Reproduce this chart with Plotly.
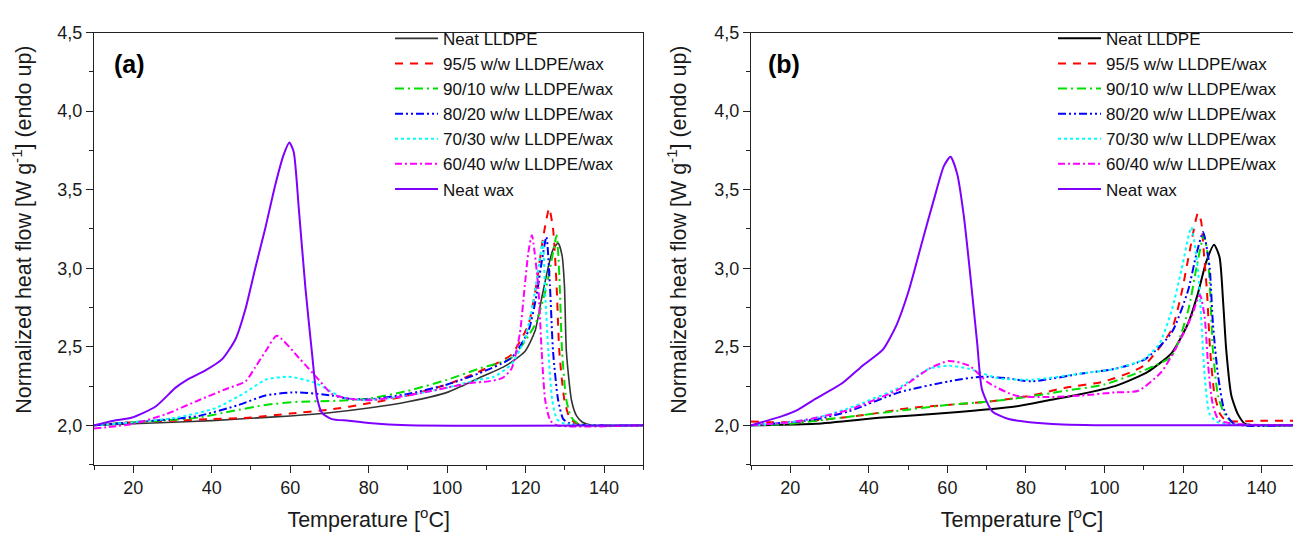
import plotly.graph_objects as go

# ---------------- Panel (a) data ----------------
a_lldpe_T = [10, 20, 30, 40, 50, 60, 70, 80, 90, 100, 108, 115, 119.8, 122.4, 124.1, 125.8, 127, 128.3, 129.3, 129.9, 130.4, 131.7, 133, 134.5, 137, 150]
a_lldpe_v = [2.0, 2.01, 2.02, 2.03, 2.045, 2.06, 2.08, 2.11, 2.15, 2.21, 2.30, 2.38, 2.47, 2.60, 2.81, 3.01, 3.12, 3.16, 3.08, 2.89, 2.47, 2.16, 2.06, 2.02, 2.0, 2.0]

a_95_T = [10, 20, 30, 40, 50, 60, 70, 80, 90, 100, 108, 113, 116.4, 120.7, 122.7, 124.5, 126, 127, 127.9, 128.6, 129.9, 131.2, 133, 150]
a_95_v = [2.0, 2.02, 2.03, 2.04, 2.05, 2.075, 2.10, 2.14, 2.19, 2.26, 2.34, 2.40, 2.45, 2.64, 2.89, 3.20, 3.38, 3.25, 2.89, 2.47, 2.16, 2.05, 2.01, 2.0]

a_90_T = [10, 20, 30, 36.7, 45, 53.7, 62, 70, 75, 80, 90, 100, 108, 116.4, 122.4, 125, 126.7, 127.9, 128.3, 128.7, 129.3, 130.4, 131.7, 133.5, 150]
a_90_v = [2.0, 2.02, 2.035, 2.05, 2.09, 2.13, 2.15, 2.155, 2.16, 2.17, 2.22, 2.29, 2.36, 2.43, 2.64, 2.85, 3.06, 3.21, 3.10, 2.89, 2.47, 2.16, 2.05, 2.01, 2.0]

a_80_T = [10, 20, 30, 36.7, 46.9, 53.7, 61.3, 70.6, 75, 80, 90, 100, 108, 116.4, 120.7, 122.8, 124.1, 125.3, 126.2, 127.0, 128.3, 129.6, 131.5, 150]
a_80_v = [2.0, 2.02, 2.04, 2.06, 2.13, 2.19, 2.21, 2.19, 2.17, 2.165, 2.20, 2.26, 2.33, 2.43, 2.60, 2.83, 3.04, 3.20, 2.89, 2.47, 2.16, 2.04, 2.01, 2.0]

a_70_T = [10, 20, 31.2, 41, 48.6, 53.7, 59.6, 66.4, 72.3, 75, 80, 90, 100, 108, 112, 116.4, 119.8, 121.9, 123.2, 124.4, 124.9, 125.8, 126.8, 128, 130, 150]
a_70_v = [2.0, 2.02, 2.05, 2.11, 2.21, 2.29, 2.31, 2.27, 2.19, 2.17, 2.16, 2.19, 2.24, 2.29, 2.31, 2.39, 2.55, 2.78, 2.99, 3.17, 2.89, 2.47, 2.16, 2.04, 2.01, 2.0]

a_60_T = [10, 20, 28.2, 36.7, 43.5, 48.6, 51.1, 53.7, 56.6, 62.2, 67.3, 70.6, 75, 80, 90, 100, 106, 110.5, 114, 116.4, 118.5, 119.8, 120.7, 121.6, 123.2, 124.1, 125.0, 126.3, 128, 150]
a_60_v = [1.98, 2.01, 2.07, 2.16, 2.23, 2.28, 2.37, 2.47, 2.57, 2.43, 2.29, 2.20, 2.17, 2.16, 2.19, 2.24, 2.27, 2.28, 2.30, 2.36, 2.58, 2.89, 3.10, 3.21, 2.89, 2.47, 2.16, 2.03, 2.0, 2.0]

a_wax_T = [10, 15, 19.7, 25.7, 30.8, 33.7, 38.4, 42.6, 46.1, 48.6, 51.1, 53.7, 56.2, 58.3, 59.8, 60.9, 62.2, 63.9, 65.6, 66.8, 68.1, 70.6, 74.9, 80, 90, 150]
a_wax_v = [2.0, 2.03, 2.05, 2.12, 2.24, 2.29, 2.35, 2.42, 2.55, 2.74, 3.00, 3.26, 3.53, 3.72, 3.80, 3.74, 3.38, 2.87, 2.45, 2.18, 2.08, 2.04, 2.03, 2.015, 2.0, 2.0]

# ---------------- Panel (b) data ----------------
b_lldpe_T = [10, 26.5, 43.5, 60.4, 77.3, 85.8, 94.2, 102.7, 108.6, 111, 117.1, 121.3, 123.8, 125.9, 127.9, 129.3, 130.2, 131, 132.3, 134, 135.8, 140, 148]
b_lldpe_v = [2.0, 2.01, 2.05, 2.08, 2.12, 2.16, 2.20, 2.25, 2.31, 2.34, 2.46, 2.65, 2.84, 3.04, 3.15, 3.07, 2.79, 2.48, 2.19, 2.07, 2.01, 2.0, 2.0]

b_95_T = [10, 15, 20, 30, 40, 50.2, 60, 70, 81.5, 90, 100, 110, 117.1, 119.6, 121.7, 123.8, 124.6, 125.3, 126.1, 126.9, 128, 129.5, 131, 140, 148]
b_95_v = [2.025, 2.02, 2.02, 2.04, 2.07, 2.11, 2.13, 2.15, 2.19, 2.24, 2.28, 2.38, 2.61, 2.84, 3.11, 3.35, 3.30, 3.10, 2.85, 2.48, 2.20, 2.07, 2.03, 2.03, 2.03]

b_90_T = [10, 20, 30, 40, 50, 60, 70, 80, 90, 100, 110, 117.1, 121.3, 123.4, 125.3, 126.2, 126.8, 127.6, 128.9, 130.6, 133, 148]
b_90_v = [2.0, 2.01, 2.04, 2.07, 2.10, 2.13, 2.15, 2.18, 2.22, 2.26, 2.35, 2.44, 2.73, 3.0, 3.21, 3.10, 2.90, 2.48, 2.19, 2.07, 2.01, 2.0]

b_80_T = [10, 20, 27, 35, 47.7, 60.4, 68.8, 75, 81.5, 94.2, 102.7, 110.3, 117.1, 121.3, 123.4, 125.1, 125.9, 126.8, 127.6, 128.9, 130.6, 133, 148]
b_80_v = [2.0, 2.02, 2.04, 2.09, 2.21, 2.28, 2.31, 2.30, 2.28, 2.33, 2.36, 2.42, 2.59, 2.86, 3.09, 3.23, 3.15, 3.00, 2.65, 2.32, 2.09, 2.01, 2.0]

b_70_T = [10, 20, 27, 35, 47.7, 55.3, 60.4, 65.5, 73, 81.5, 94.2, 102.7, 110, 114, 117.1, 119.6, 122.1, 123.8, 124.7, 125.5, 126.8, 128.9, 148]
b_70_v = [2.0, 2.02, 2.05, 2.11, 2.24, 2.36, 2.38, 2.36, 2.30, 2.29, 2.33, 2.36, 2.42, 2.52, 2.73, 2.99, 3.26, 2.99, 2.65, 2.32, 2.07, 2.02, 2.0]

b_60_T = [10, 20, 27, 35, 47.7, 55.3, 60.4, 65.5, 70.5, 77.3, 85.8, 94.2, 102.7, 108.6, 114.5, 118.8, 122.1, 124.3, 125.5, 126.4, 127.6, 129.3, 148]
b_60_v = [2.0, 2.02, 2.05, 2.10, 2.23, 2.36, 2.41, 2.38, 2.27, 2.19, 2.18, 2.19, 2.21, 2.22, 2.34, 2.52, 2.69, 2.83, 2.69, 2.38, 2.13, 2.03, 2.0]

b_wax_T = [10, 18.1, 22, 26.5, 33.3, 38.4, 43.5, 46.9, 50.2, 53.6, 56.6, 59.1, 60.8, 62.5, 64.2, 65.9, 67.6, 68.8, 71.4, 75.6, 85.8, 100, 148]
b_wax_v = [2.0, 2.06, 2.10, 2.17, 2.27, 2.38, 2.48, 2.63, 2.86, 3.17, 3.44, 3.65, 3.71, 3.60, 3.33, 2.94, 2.52, 2.23, 2.09, 2.04, 2.01, 2.0, 2.0]

names = ["Neat LLDPE", "95/5 w/w LLDPE/wax", "90/10 w/w LLDPE/wax", "80/20 w/w LLDPE/wax",
         "70/30 w/w LLDPE/wax", "60/40 w/w LLDPE/wax", "Neat wax"]
x_ticks = [20, 40, 60, 80, 100, 120, 140]
panel_labels = ["(a)", "(b)"]
y_title = "Normalized heat flow [W g<sup>-1</sup>] (endo up)"
x_title = "Temperature [<sup>o</sup>C]"

colors = ["#333333", "#ff0000", "#00e000", "#0000ff", "#00ffff", "#ff00ff", "#7f00ff"]
dashes = ["solid", "8px,7px", "9px,4px,2px,4px", "8px,3px,2px,3px,2px,3px", "3px,3px", "7px,3px,2px,3px", "solid"]
widths = [1.6, 2, 2, 2, 2, 2, 2]

panel_a = [(a_lldpe_T, a_lldpe_v), (a_95_T, a_95_v), (a_90_T, a_90_v), (a_80_T, a_80_v),
           (a_70_T, a_70_v), (a_60_T, a_60_v), (a_wax_T, a_wax_v)]
panel_b = [(b_lldpe_T, b_lldpe_v), (b_95_T, b_95_v), (b_90_T, b_90_v), (b_80_T, b_80_v),
           (b_70_T, b_70_v), (b_60_T, b_60_v), (b_wax_T, b_wax_v)]

fig = go.Figure()
for panel, xa, ya, leg, black in [(panel_a, "x", "y", "legend", "#333333"), (panel_b, "x2", "y2", "legend2", "#000000")]:
    for i, (T, v) in enumerate(panel):
        col = black if i == 0 else colors[i]
        w = widths[i] if xa == "x" else (2 if i == 0 else widths[i])
        fig.add_trace(go.Scatter(
            x=T, y=v, mode="lines", name=names[i],
            line=dict(color=col, dash=dashes[i], width=w, shape="spline", smoothing=0.6),
            xaxis=xa, yaxis=ya, legend=leg, showlegend=True))

font_family = "Liberation Sans, Arial, sans-serif"
tickfont = dict(family=font_family, size=18, color="#1a1a1a")
titlefont = dict(family=font_family, size=21.5, color="#1a1a1a")

def xaxis_cfg(domain, rng):
    return dict(domain=domain, range=rng, tickmode="array", tickvals=x_ticks,
                ticks="outside", ticklen=7, tickwidth=1.3, tickcolor="#222222",
                showline=True, linecolor="#222222", linewidth=1.3, mirror=True,
                showgrid=False, zeroline=False, tickfont=tickfont,
                minor=dict(tickmode="linear", tick0=10, dtick=10, ticks="outside", ticklen=4,
                           tickwidth=1.3, tickcolor="#222222", showgrid=False),
                title=dict(text=x_title, font=titlefont, standoff=14))

def yaxis_cfg(anchor, mirror):
    return dict(domain=[1 - 463.3 / 535, 1 - 23 / 535], range=[1.75, 4.5], anchor=anchor,
                tickmode="linear", tick0=2.0, dtick=0.5, tickformat=".1f",
                ticks="outside", ticklen=7, tickwidth=1.3, tickcolor="#222222",
                showline=True, linecolor="#222222", linewidth=1.3, mirror=mirror,
                showgrid=False, zeroline=False, tickfont=tickfont,
                minor=dict(tickmode="linear", tick0=1.75, dtick=0.25, ticks="outside", ticklen=4,
                           tickwidth=1.3, tickcolor="#222222", showgrid=False))

legend_common = dict(font=dict(family=font_family, size=17, color="#111111"),
                     bgcolor="rgba(0,0,0,0)", borderwidth=0, xanchor="left", yanchor="top",
                     itemwidth=43, tracegroupgap=0)

def panel_label(text, x_px):
    return dict(text="<b>%s</b>" % text, xref="paper", yref="paper", x=x_px / 1293, y=1 - 55 / 535,
                xanchor="left", yanchor="middle", showarrow=False,
                font=dict(family=font_family, size=25, color="black"))

def y_title_ann(x_px):
    return dict(text=y_title, xref="paper", yref="paper", x=x_px / 1293, y=1 - 224 / 535,
                xanchor="center", yanchor="middle", textangle=-90, showarrow=False,
                font=titlefont)

fig.update_layout(
    width=1293, height=535,
    margin=dict(l=0, r=0, t=0, b=0),
    paper_bgcolor="white", plot_bgcolor="white",
    separators=", ",
    xaxis=dict(**xaxis_cfg([94 / 1293, 643.3 / 1293], [10, 150]), anchor="y"),
    yaxis=yaxis_cfg("x", True),
    xaxis2=dict(**xaxis_cfg([751 / 1293, 1.0], [10, 148]), anchor="y2"),
    yaxis2=yaxis_cfg("x2", False),
    legend=dict(**legend_common, x=390 / 1293, y=1 - 11 / 535),
    legend2=dict(**legend_common, x=1053 / 1293, y=1 - 11 / 535),
    annotations=[panel_label(panel_labels[0], 112), panel_label(panel_labels[1], 766),
                 y_title_ann(22), y_title_ann(677)],
)

fig.write_html("out.html")
